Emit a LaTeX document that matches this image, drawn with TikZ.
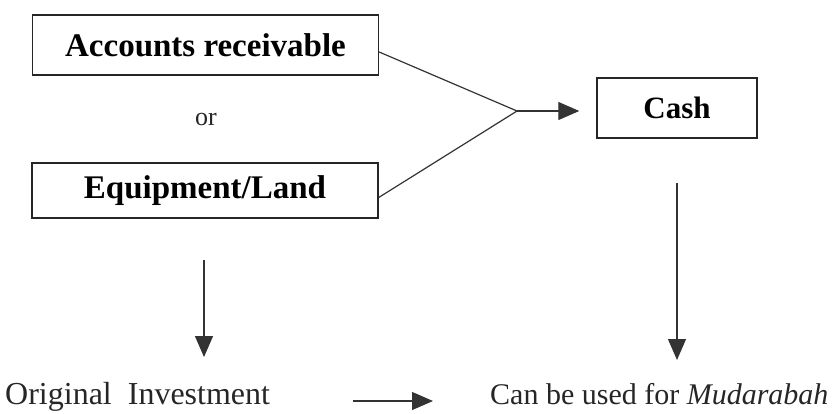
\documentclass[tikz,border=0pt]{standalone}
\usepackage{fontspec}
\setmainfont{Liberation Serif}
\usetikzlibrary{arrows.meta}
\begin{document}
\begin{tikzpicture}[x=1pt,y=-1pt,
  box/.style={draw=black!85, line width=1.4pt, minimum height=#1, inner sep=0pt, font=\fontsize{33}{38}\selectfont\bfseries},
  box/.default=60pt,
  plain/.style={draw=black!80, line width=1.2pt},
  arr/.style={plain, -{Triangle[length=21pt,width=18pt]}},
  lbl/.style={inner sep=0pt, font=\fontsize{32}{38}\selectfont, text=black!85}]
\useasboundingbox (0,0) rectangle (838,413);
\node[box=60pt, minimum width=346pt] (A) at (205.5,45) {Accounts receivable};
\node[lbl, font=\fontsize{26}{30}\selectfont] (or) at (206,119) {or};
\node[box=55pt, minimum width=346pt] (E) at (205,190.5) {Equipment/Land};
\node[box=60pt, minimum width=160pt, font=\fontsize{31}{36}\selectfont\bfseries] (C) at (677,108) {Cash};
\coordinate (J) at (517,111);
\draw[plain] ([yshift=-7pt]A.east) -- (J);
\draw[plain] ([yshift=-7pt]E.east) -- (J);
\draw[arr, shorten >=17pt] (J) -- (C.west |- J);
\node[lbl, anchor=base west] (OI) at (5,404) {Original\ \ Investment};
\node[lbl, anchor=base west, font=\fontsize{30}{36}\selectfont] (MU) at (490,404) {Can be used for \textit{Mudarabah}};
\coordinate (l1) at (204,260);
\coordinate (l2) at (204,357);
\draw[arr] (l1) -- (l2);
\coordinate (r1) at (677,183);
\coordinate (r2) at (677,360);
\draw[arr] (r1) -- (r2);
\coordinate (b1) at (353,401);
\coordinate (b2) at (433,401);
\draw[arr] (b1) -- (b2);
\end{tikzpicture}
\end{document}
